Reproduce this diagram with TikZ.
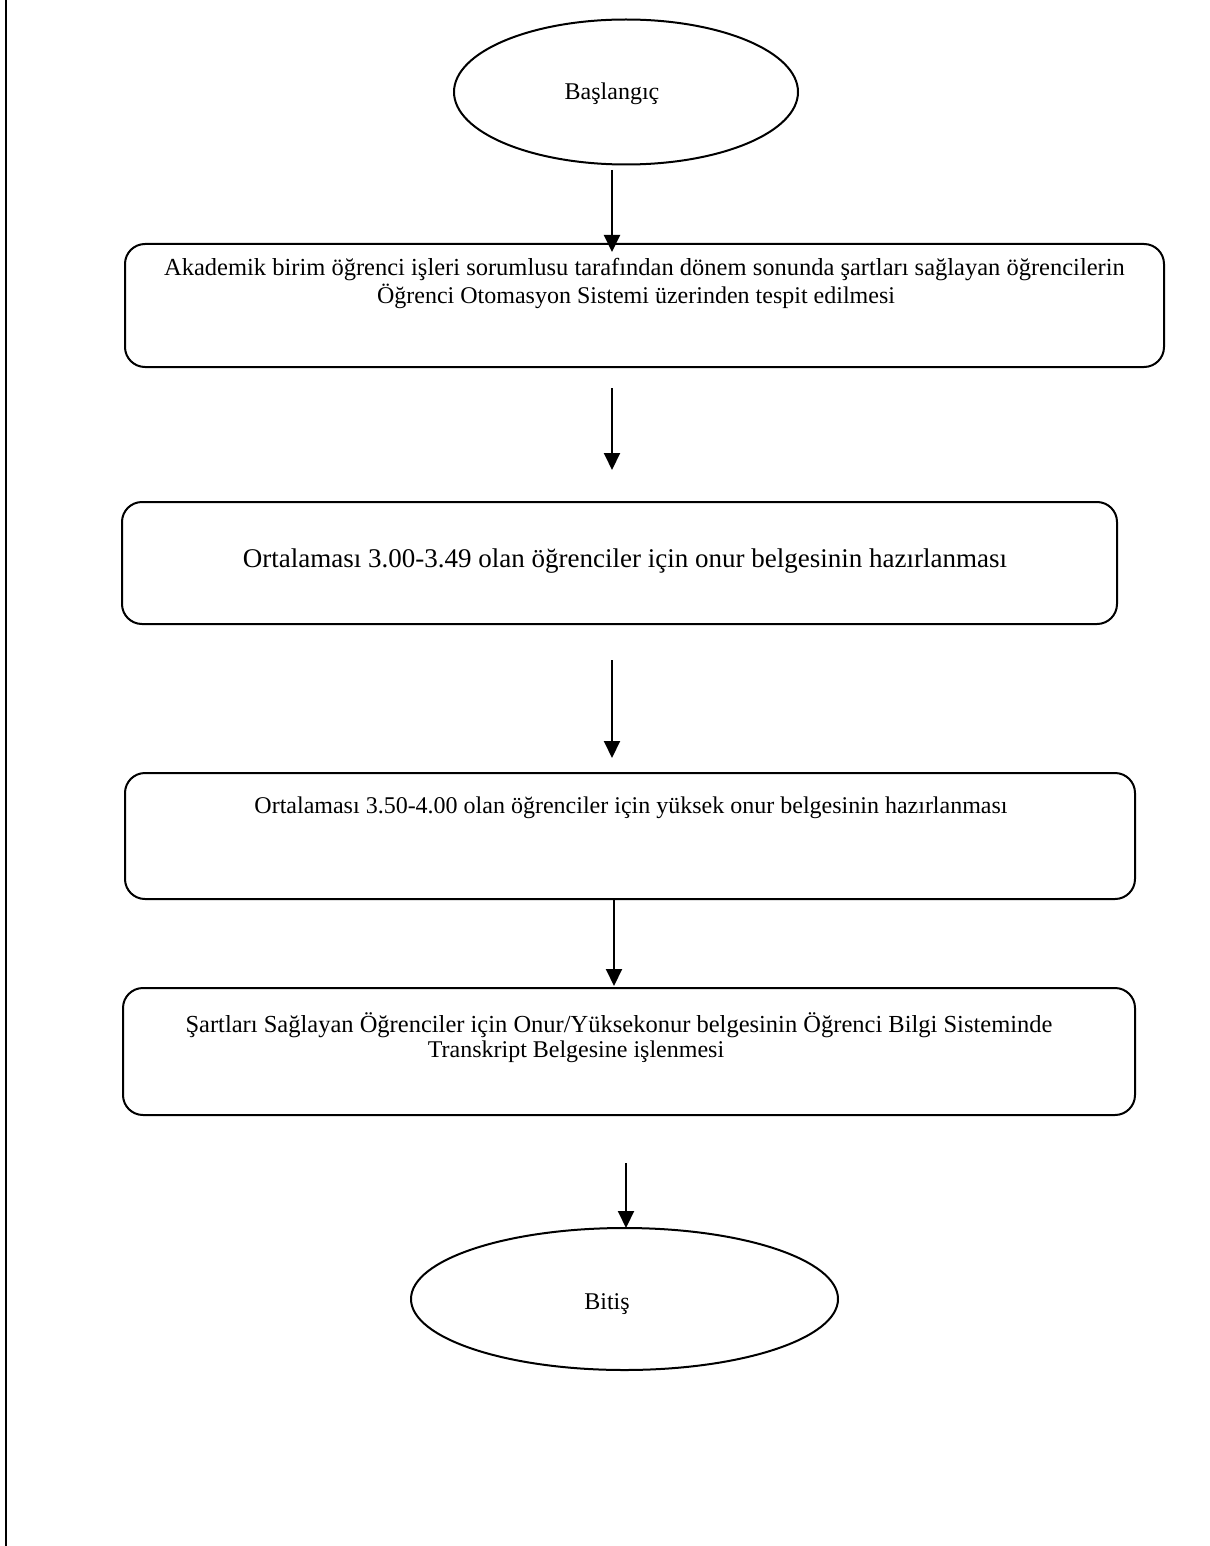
\documentclass[tikz,border=0pt]{standalone}
\usepackage{fontspec}
\setmainfont{Liberation Serif}
\usetikzlibrary{shapes.geometric,arrows.meta}

\tikzset{
  terminal/.style={draw, ellipse, line width=2pt, inner sep=0pt},
  stepbox/.style={draw, rectangle, rounded corners=20pt, line width=2pt, inner sep=0pt},
  lbl/.style={font=\fontsize{24}{27}\selectfont, inner sep=0pt},
  widelbl/.style={font=\fontsize{24.5}{27}\selectfont, inner sep=0pt},
  biglbl/.style={font=\fontsize{27}{30}\selectfont, inner sep=0pt},
  flow/.style={line width=2pt, -{Triangle[length=17pt,width=16pt]}},
}

\begin{document}
\begin{tikzpicture}[x=1pt,y=-1pt]
  \useasboundingbox (0,0) rectangle (1209,1546);

  % page edge rule on the left
  \draw[line width=2.5pt] (6,0) -- (6,1546);

  % start
  \node[terminal, minimum width=344pt, minimum height=145pt] (start) at (626,92) {};
  \node[lbl] (tstart) at (612,94) {Başlangıç};

  % step 1
  \node[stepbox, minimum width=1039pt, minimum height=123pt] (b1) at (644.5,305.5) {};
  \node[widelbl] (t1a) at (644.5,270) {Akademik birim öğrenci işleri sorumlusu tarafından dönem sonunda şartları sağlayan öğrencilerin};
  \node[lbl] (t1b) at (636,296) {Öğrenci Otomasyon Sistemi üzerinden tespit edilmesi};

  % step 2
  \node[stepbox, minimum width=995pt, minimum height=122pt] (b2) at (619.5,563) {};
  \node[biglbl] (t2) at (625,561) {Ortalaması 3.00-3.49 olan öğrenciler için onur belgesinin hazırlanması};

  % step 3
  \node[stepbox, minimum width=1010pt, minimum height=126pt] (b3) at (630,836) {};
  \node[lbl] (t3) at (631,808) {Ortalaması 3.50-4.00 olan öğrenciler için yüksek onur belgesinin hazırlanması};

  % step 4
  \node[stepbox, minimum width=1012pt, minimum height=127pt] (b4) at (629,1051.5) {};
  \node[widelbl] (t4a) at (619,1025) {Şartları Sağlayan Öğrenciler için Onur/Yüksekonur belgesinin Öğrenci Bilgi Sisteminde};
  \node[lbl] (t4b) at (576,1052) {Transkript Belgesine işlenmesi};

  % end
  \node[terminal, minimum width=427pt, minimum height=142pt] (stop) at (624.5,1299) {};
  \node[lbl] (tstop) at (607,1304) {Bitiş};

  % connectors
  \coordinate (a1s) at (612,170);
  \coordinate (a1e) at (612,252);
  \coordinate (a2s) at (612,388);
  \coordinate (a2e) at (612,470);
  \coordinate (a3s) at (612,660);
  \coordinate (a3e) at (612,758);
  \coordinate (a4s) at (614,900);
  \coordinate (a4e) at (614,986);
  \coordinate (a5s) at (626,1163);
  \coordinate (a5e) at (626,1228);
  \draw[flow] (a1s) -- (a1e);
  \draw[flow] (a2s) -- (a2e);
  \draw[flow] (a3s) -- (a3e);
  \draw[flow] (a4s) -- (a4e);
  \draw[flow] (a5s) -- (a5e);
\end{tikzpicture}
\end{document}
